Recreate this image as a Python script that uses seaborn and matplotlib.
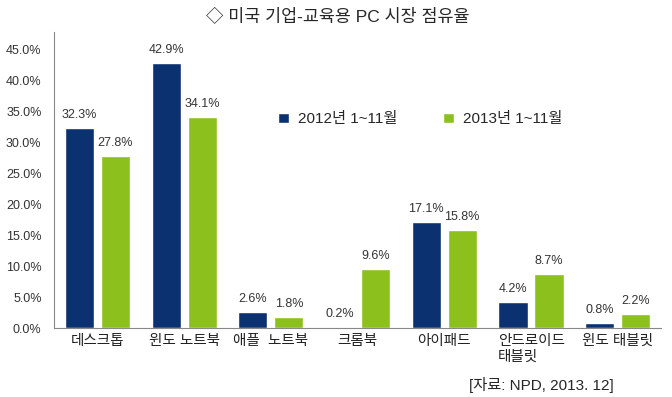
import pandas as pd
import seaborn as sns
import matplotlib.pyplot as plt

# Chart values
categories = ['데스크톱', '윈도 노트북', '애플  노트북', '크롬북', '아이패드', '안드로이드\n태블릿', '윈도 태블릿']
share_2012 = [32.3, 42.9, 2.6, 0.2, 17.1, 4.2, 0.8]
share_2013 = [27.8, 34.1, 1.8, 9.6, 15.8, 8.7, 2.2]
series = ['2012년 1~11월', '2013년 1~11월']
colors = ['#0c3170', '#8cc11d']
yticks = [0, 5, 10, 15, 20, 25, 30, 35, 40, 45]

df = pd.DataFrame({
    'category': categories * 2,
    'share': share_2012 + share_2013,
    'series': [series[0]] * len(categories) + [series[1]] * len(categories),
})

sns.set_style('white')
plt.rcParams['font.family'] = ['Liberation Sans', 'Noto Sans CJK KR', 'DejaVu Sans']

fig = plt.figure(figsize=(6.72, 3.97), dpi=100)
ax = fig.add_axes([0.0804, 0.1738, 0.9033, 0.7456])

sns.barplot(data=df, x='category', y='share', hue='series', palette=colors,
            width=0.83, gap=0.19, ax=ax, saturation=1)

# value labels above bars
for cont in ax.containers:
    ax.bar_label(cont, labels=[f'{v:.1f}%' for v in cont.datavalues],
                 padding=5, fontsize=9, color='#333333')

ax.set_ylim(0, 47.9)
ax.set_xlim(-0.5, 6.5)
ax.set_yticks(yticks)
ax.set_yticklabels([f'{t:.1f}%' for t in yticks], fontsize=9, color='#333333')
ax.tick_params(axis='x', labelsize=10.5, colors='#222222', length=0, pad=4)
ax.tick_params(axis='y', length=0, pad=9)
for lab in ax.get_xticklabels():
    lab.set_multialignment('left')
ax.set_xlabel('')
ax.set_ylabel('')

for side in ['top', 'right']:
    ax.spines[side].set_visible(False)
ax.spines['left'].set_color('#888888')
ax.spines['bottom'].set_color('#888888')
ax.spines['left'].set_linewidth(0.8)
ax.spines['bottom'].set_linewidth(0.8)

ax.legend(loc='upper left', bbox_to_anchor=(0.346, 0.775), ncol=2, frameon=False,
          fontsize=11, handlelength=0.7, handleheight=0.7, handletextpad=0.6,
          columnspacing=3.0)

fig.text(0.503, 0.96, '◇ 미국 기업-교육용 PC 시장 점유율', ha='center', va='center', fontsize=12.5)
fig.text(0.914, 0.03, '[자료: NPD, 2013. 12]', ha='right', va='center', fontsize=11)

fig.savefig('out.png', dpi=100)
